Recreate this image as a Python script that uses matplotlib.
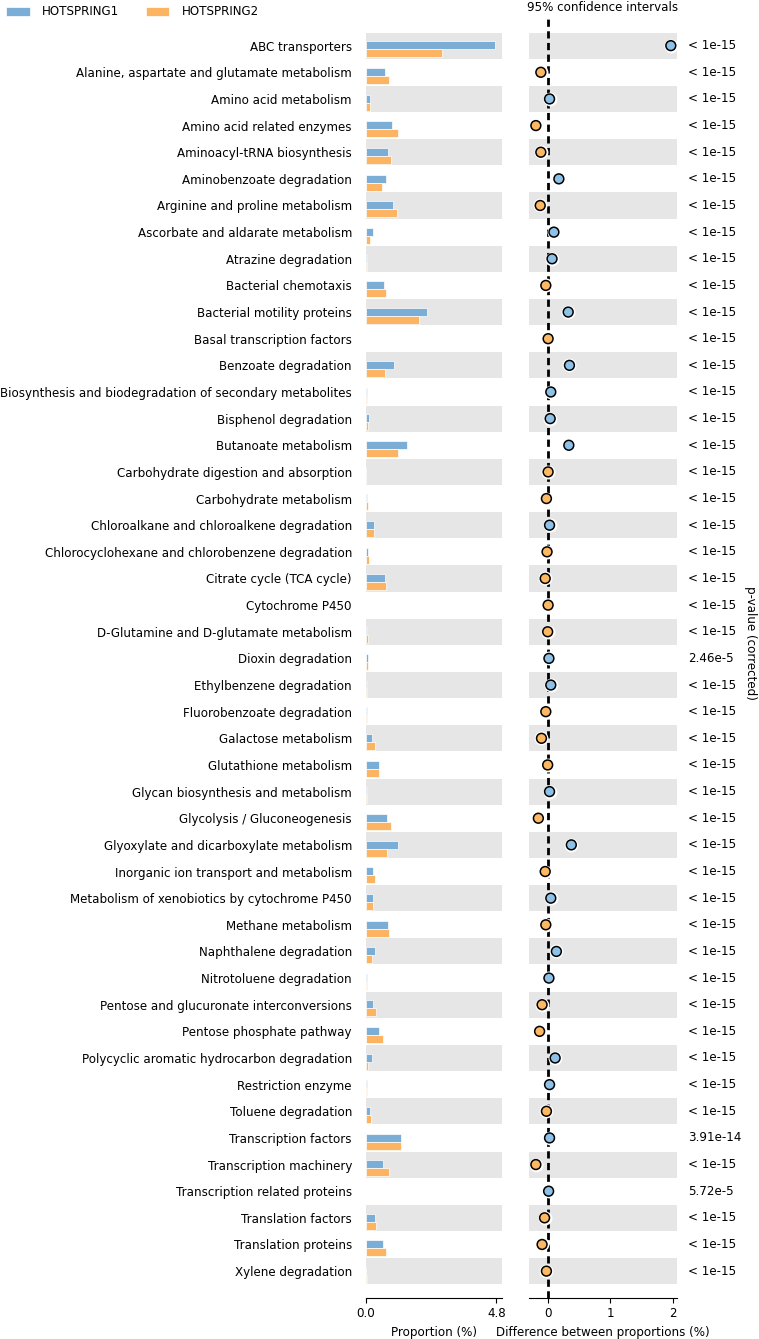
import matplotlib
matplotlib.use('Agg')
import matplotlib.pyplot as plt
import numpy as np

plt.rcParams['font.family'] = ['DejaVu Sans']
plt.rcParams['font.size'] = 8.6

categories = [
    'ABC transporters', 'Alanine, aspartate and glutamate metabolism', 'Amino acid metabolism',
    'Amino acid related enzymes', 'Aminoacyl-tRNA biosynthesis', 'Aminobenzoate degradation',
    'Arginine and proline metabolism', 'Ascorbate and aldarate metabolism', 'Atrazine degradation',
    'Bacterial chemotaxis', 'Bacterial motility proteins', 'Basal transcription factors',
    'Benzoate degradation', 'Biosynthesis and biodegradation of secondary metabolites',
    'Bisphenol degradation', 'Butanoate metabolism', 'Carbohydrate digestion and absorption',
    'Carbohydrate metabolism', 'Chloroalkane and chloroalkene degradation',
    'Chlorocyclohexane and chlorobenzene degradation', 'Citrate cycle (TCA cycle)',
    'Cytochrome P450', 'D-Glutamine and D-glutamate metabolism', 'Dioxin degradation',
    'Ethylbenzene degradation', 'Fluorobenzoate degradation', 'Galactose metabolism',
    'Glutathione metabolism', 'Glycan biosynthesis and metabolism', 'Glycolysis / Gluconeogenesis',
    'Glyoxylate and dicarboxylate metabolism', 'Inorganic ion transport and metabolism',
    'Metabolism of xenobiotics by cytochrome P450', 'Methane metabolism',
    'Naphthalene degradation', 'Nitrotoluene degradation',
    'Pentose and glucuronate interconversions', 'Pentose phosphate pathway',
    'Polycyclic aromatic hydrocarbon degradation', 'Restriction enzyme', 'Toluene degradation',
    'Transcription factors', 'Transcription machinery', 'Transcription related proteins',
    'Translation factors', 'Translation proteins', 'Xylene degradation',
]

hotspring1 = [4.76, 0.70, 0.17, 0.97, 0.80, 0.74, 1.01, 0.25, 0.06, 0.68, 2.25, 0.003,
              1.03, 0.06, 0.11, 1.50, 0.002, 0.025, 0.31, 0.09, 0.71, 0.002, 0.06,
              0.09, 0.06, 0.03, 0.21, 0.48, 0.06, 0.79, 1.17, 0.26, 0.28, 0.81,
              0.34, 0.06, 0.26, 0.47, 0.21, 0.06, 0.14, 1.30, 0.63, 0.004, 0.32, 0.63, 0.01]
hotspring2 = [2.82, 0.85, 0.15, 1.18, 0.92, 0.58, 1.16, 0.16, 0.04, 0.74, 1.94, 0.004,
              0.70, 0.05, 0.09, 1.18, 0.004, 0.07, 0.30, 0.12, 0.76, 0.004, 0.09,
              0.07, 0.05, 0.06, 0.32, 0.50, 0.06, 0.94, 0.79, 0.32, 0.25, 0.86,
              0.23, 0.05, 0.36, 0.62, 0.09, 0.05, 0.18, 1.28, 0.84, 0.002, 0.38, 0.73, 0.05]
difference = [1.97, -0.12, 0.02, -0.20, -0.12, 0.17, -0.13, 0.09, 0.06, -0.04, 0.32, -0.003,
              0.34, 0.04, 0.03, 0.33, -0.003, -0.03, 0.02, -0.02, -0.05, -0.003, -0.01,
              0.01, 0.04, -0.04, -0.11, -0.01, 0.02, -0.16, 0.37, -0.05, 0.04, -0.04,
              0.13, 0.01, -0.10, -0.14, 0.11, 0.02, -0.03, 0.02, -0.20, 0.005, -0.06, -0.10, -0.03]
pvalues = ['< 1e-15'] * len(categories)
pvalues[categories.index('Dioxin degradation')] = '2.46e-5'
pvalues[categories.index('Transcription factors')] = '3.91e-14'
pvalues[categories.index('Transcription related proteins')] = '5.72e-5'

blue_bar = '#7aaed6'
orange_bar = '#fdb462'
blue_dot = '#8ec1e8'
orange_dot = '#fdb863'
band = '#e6e6e6'

n = len(categories)
y = np.arange(n)[::-1]

fig = plt.figure(figsize=(7.59, 13.39), dpi=100)
ax1 = fig.add_axes([0.482, 0.0308, 0.179, 0.955])
ax2 = fig.add_axes([0.697, 0.0308, 0.195, 0.955])

# alternating grey bands behind rows
for ax in (ax1, ax2):
    for i in range(n):
        if i % 2 == 0:
            ax.axhspan(y[i] - 0.49, y[i] + 0.49, color=band, lw=0, zorder=0)
    ax.set_ylim(-1.0, n)
    for s in ('top', 'right', 'left'):
        ax.spines[s].set_visible(False)
    ax.tick_params(axis='y', length=0)

ax1.barh(y + 0.01, hotspring1, height=0.3, color=blue_bar, edgecolor='white', lw=0.5, zorder=2,
         label='HOTSPRING1')
ax1.barh(y - 0.29, hotspring2, height=0.3, color=orange_bar, edgecolor='white', lw=0.5, zorder=2,
         label='HOTSPRING2')
ax1.set_xlim(0, 5.0)
ax1.set_xticks([0.0, 4.8])
ax1.set_xticklabels(['0.0', '4.8'])
ax1.set_yticks(y)
ax1.set_yticklabels(categories)
ax1.tick_params(axis='y', pad=10)
ax1.set_xlabel('Proportion (%)', labelpad=4)

ax2.axvline(0, color='black', ls=(0, (2.6, 1.6)), lw=2, zorder=1)
dot_colors = [blue_dot if d > 0 else orange_dot for d in difference]
ax2.scatter(difference, y, s=100, c='white', lw=0, zorder=2)
ax2.scatter(difference, y, s=50, c=dot_colors, edgecolors='black', linewidths=1.1, zorder=3)
ax2.set_xlim(-0.31, 2.07)
ax2.set_xticks([0, 1, 2])
ax2.set_yticks([])
ax2.set_xlabel('Difference between proportions (%)', labelpad=4)
ax2.set_title('95% confidence intervals', fontsize=8.6, pad=6)

for yi, p in zip(y, pvalues):
    ax2.annotate(p, xy=(1.0, yi), xycoords=('axes fraction', 'data'), xytext=(11, 0),
                 textcoords='offset pixels', va='center', ha='left')

fig.text(0.989, 0.52, 'p-value (corrected)', rotation=270, ha='center', va='center')

handles, labels = ax1.get_legend_handles_labels()
fig.legend(handles, labels, loc='upper left', bbox_to_anchor=(-0.006, 1.004), ncol=2,
           frameon=False, handlelength=2.0, handleheight=0.8, handletextpad=1.0,
           columnspacing=2.2)

fig.savefig('out.png', dpi=100)
